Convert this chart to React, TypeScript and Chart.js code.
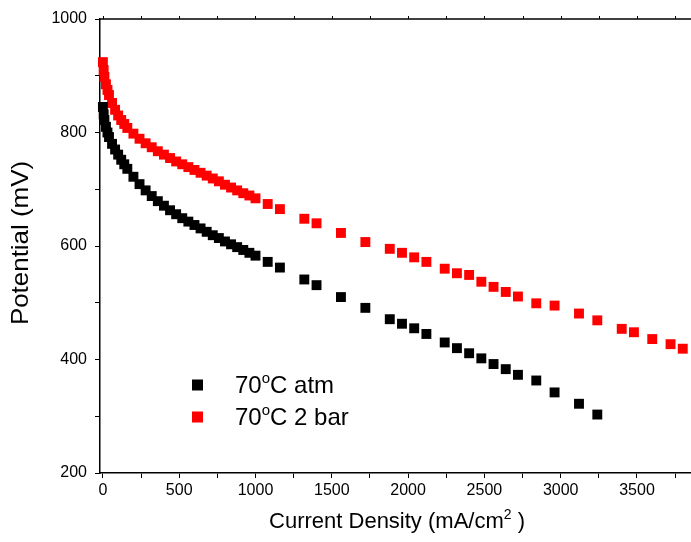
import React, { useEffect, useRef } from "react";
import { Chart, registerables } from "chart.js";

Chart.register(...registerables);

// Current density (mA/cm²)
const currentAtm = [
  0, 5, 10, 20, 30, 40, 60, 80, 100, 120, 140, 160, 200, 240, 280, 320, 360, 400, 440, 480, 520, 560, 600, 640,
  680, 720, 760, 800, 840, 880, 920, 960, 1000, 1080, 1160, 1320, 1400, 1560, 1720, 1880, 1960, 2040, 2120, 2240,
  2320, 2400, 2480, 2560, 2640, 2720, 2840, 2960, 3120, 3240,
];
// Potential (mV), 70°C atm
const potentialAtm = [
  845, 832, 822, 810, 800, 792, 780, 770, 761, 752, 744, 736, 722, 709, 698, 688, 679, 671, 663, 656, 649, 643,
  637, 631, 625, 619, 614, 608, 603, 598, 593, 588, 583, 572, 562, 541, 531, 510, 491, 471, 463, 455, 445, 430,
  420, 411, 402, 392, 383, 373, 363, 342, 322, 303,
];

const currentBar = [
  0, 5, 10, 20, 30, 40, 60, 80, 100, 120, 140, 160, 200, 240, 280, 320, 360, 400, 440, 480, 520, 560, 600, 640,
  680, 720, 760, 800, 840, 880, 920, 960, 1000, 1080, 1160, 1320, 1400, 1560, 1720, 1880, 1960, 2040, 2120, 2240,
  2320, 2400, 2480, 2560, 2640, 2720, 2840, 2960, 3120, 3240, 3400, 3480, 3600, 3720, 3800,
];
// Potential (mV), 70°C 2 bar
const potentialBar = [
  924, 910, 898, 885, 875, 866, 852, 840, 830, 822, 815, 808, 798, 789, 781, 774, 767, 761, 755, 749, 744, 739,
  734, 729, 724, 719, 714, 708, 703, 698, 693, 689, 684, 674, 665, 648, 640, 623, 607, 595, 588, 580, 572, 560,
  552, 549, 537, 528, 519, 511, 499, 495, 481, 469, 454, 448, 436, 427, 419,
];

const yTickLabels = [200, 400, 600, 800, 1000];
const xTickLabels = [0, 500, 1000, 1500, 2000, 2500, 3000, 3500];

type Part = { t: string; sup?: boolean };
const xTitle: Part[] = [{ t: "Current Density (mA/cm" }, { t: "2", sup: true }, { t: " )" }];
const yTitle: Part[] = [{ t: "Potential (mV)" }];
const legendAtm: Part[] = [{ t: "70" }, { t: "o", sup: true }, { t: "C atm" }];
const legendBar: Part[] = [{ t: "70" }, { t: "o", sup: true }, { t: "C 2 bar" }];

const FONT = "'Liberation Sans', Arial, sans-serif";

function richWidth(ctx: CanvasRenderingContext2D, parts: Part[], size: number) {
  let w = 0;
  for (const p of parts) {
    ctx.font = `${p.sup ? Math.round(size * 0.62) : size}px ${FONT}`;
    w += ctx.measureText(p.t).width;
  }
  return w;
}

function drawRich(
  ctx: CanvasRenderingContext2D,
  parts: Part[],
  x: number,
  y: number,
  size: number,
  align: "left" | "center"
) {
  const w = richWidth(ctx, parts, size);
  let cx = align === "center" ? x - w / 2 : x;
  ctx.textAlign = "left";
  ctx.textBaseline = "alphabetic";
  for (const p of parts) {
    ctx.font = `${p.sup ? Math.round(size * 0.62) : size}px ${FONT}`;
    ctx.fillText(p.t, cx, p.sup ? y - size * 0.42 : y);
    cx += ctx.measureText(p.t).width;
  }
}

const decorPlugin = {
  id: "decor",
  afterDraw(chart: any) {
    const { ctx, chartArea, scales } = chart;
    ctx.save();
    ctx.fillStyle = "#000";
    ctx.strokeStyle = "#000";
    // top axis
    ctx.lineWidth = 1.5;
    ctx.beginPath();
    ctx.moveTo(chartArea.left, chartArea.top);
    ctx.lineTo(chartArea.right, chartArea.top);
    ctx.stroke();
    ctx.lineWidth = 1;
    for (const t of scales.x.ticks) {
      const px = Math.round(scales.x.getPixelForValue(t.value)) + 0.5;
      ctx.beginPath();
      ctx.moveTo(px, chartArea.top);
      ctx.lineTo(px, chartArea.top - 3);
      ctx.stroke();
    }
    // x title
    drawRich(ctx, xTitle, 397, 528, 22, "center");
    // y title
    ctx.save();
    ctx.translate(28, 243);
    ctx.rotate(-Math.PI / 2);
    ctx.scale(1.08, 1);
    drawRich(ctx, yTitle, 0, 0, 24, "center");
    ctx.restore();
    // legend
    const ds = chart.data.datasets;
    const items = [
      { parts: legendAtm, color: ds[0].backgroundColor, y: 385 },
      { parts: legendBar, color: ds[1].backgroundColor, y: 417 },
    ];
    for (const it of items) {
      ctx.fillStyle = it.color;
      ctx.fillRect(192, it.y - 5.5, 11, 11);
      ctx.fillStyle = "#000";
      drawRich(ctx, it.parts, 235, it.y + 8, 24, "left");
    }
    ctx.restore();
  },
};

export default function App() {
  const ref = useRef<HTMLCanvasElement>(null);
  useEffect(() => {
    if (!ref.current) return;
    const chart = new Chart(ref.current, {
      type: "scatter",
      data: {
        datasets: [
          {
            label: "70°C atm",
            data: currentAtm.map((x, i) => ({ x, y: potentialAtm[i] })),
            backgroundColor: "#000000",
            borderColor: "#000000",
            pointStyle: "rect",
            pointRadius: 7,
            borderWidth: 0,
            clip: false,
          },
          {
            label: "70°C 2 bar",
            data: currentBar.map((x, i) => ({ x, y: potentialBar[i] })),
            backgroundColor: "#ff0000",
            borderColor: "#ff0000",
            pointStyle: "rect",
            pointRadius: 7,
            borderWidth: 0,
            clip: false,
          },
        ],
      },
      options: {
        responsive: false,
        animation: false,
        devicePixelRatio: 1,
        layout: { autoPadding: false, padding: { top: 19, right: 0, left: 0, bottom: 0 } },
        plugins: { legend: { display: false }, tooltip: { enabled: false } },
        scales: {
          x: {
            type: "linear",
            min: -19,
            max: 3854,
            afterFit: (s: any) => {
              s.height = 69;
            },
            border: { display: true, color: "#000", width: 1.5 },
            grid: { drawOnChartArea: false, drawTicks: true, tickLength: 5, color: "#000" },
            ticks: {
              stepSize: 250,
              includeBounds: false,
              autoSkip: false,
              maxRotation: 0,
              padding: 3,
              color: "#000",
              font: { family: FONT, size: 16 },
              callback: (v: any) => (xTickLabels.includes(Number(v)) ? String(v) : ""),
            },
          },
          y: {
            type: "linear",
            min: 200,
            max: 1000,
            afterFit: (s: any) => {
              s.width = 100;
            },
            border: { display: true, color: "#000", width: 1.5 },
            grid: { drawOnChartArea: false, drawTicks: true, tickLength: 5, color: "#000" },
            ticks: {
              stepSize: 100,
              autoSkip: false,
              padding: 8,
              color: "#000",
              font: { family: FONT, size: 16 },
              callback: (v: any) => (yTickLabels.includes(Number(v)) ? String(v) : ""),
            },
          },
        },
      },
      plugins: [decorPlugin],
    });
    return () => chart.destroy();
  }, []);
  return (
    <div style={{ position: "absolute", left: 0, top: 0, width: 691, height: 542, background: "#fff" }}>
      <canvas ref={ref} width={691} height={542} style={{ width: 691, height: 542 }} />
    </div>
  );
}
